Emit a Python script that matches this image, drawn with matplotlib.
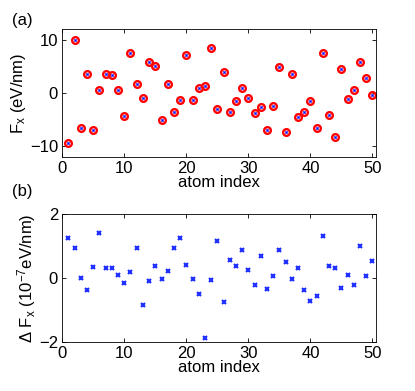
import numpy as np
import matplotlib.pyplot as plt

plt.rcParams['font.family'] = ['Liberation Sans', 'DejaVu Sans']
plt.rcParams['mathtext.fontset'] = 'custom'
plt.rcParams['mathtext.rm'] = 'Liberation Sans'
plt.rcParams['mathtext.it'] = 'Liberation Sans'
plt.rcParams['font.size'] = 12

# atom index 1..50
atom_index = np.arange(1, 51)

# panel (a): force Fx in eV/nm
fx = [-9.43, 9.94, -6.67, 3.58, -7.04, 0.57, 3.65, 3.46, 0.63, -4.40,
      7.48, 1.76, -0.94, 5.85, 5.16, -5.09, 1.76, -3.58, -1.38, 7.17,
      -1.26, 1.01, 1.26, 8.55, -3.02, 3.96, -3.58, -1.51, 1.01, -0.94,
      -3.77, -2.70, -6.92, -2.39, 4.97, -7.30, 3.65, -4.53, -3.52, -1.45,
      -6.54, 7.61, -4.21, -8.24, 4.59, -1.19, 0.57, 5.91, 2.83, -0.31]

# panel (b): force difference in 1e-7 eV/nm
dfx = [1.27, 0.96, 0.02, -0.35, 0.36, 1.42, 0.31, 0.32, 0.10, -0.14,
       0.20, 0.94, -0.82, -0.08, 0.375, -0.02, 0.24, 0.94, 1.26, 0.43,
       -0.02, -0.48, -1.85, -0.04, 1.16, -0.75, 0.58, 0.40, 0.90, 0.27,
       -0.21, 0.70, -0.33, 0.09, 0.89, 0.52, -0.01, 0.33, -0.35, -0.72,
       -0.54, 1.33, 0.40, 0.33, -0.29, 0.10, -0.21, 1.01, 0.06, 0.55]

fig = plt.figure(figsize=(4.15, 3.91), dpi=100)
ax1 = fig.add_axes([0.150, 0.599, 0.755, 0.326])
ax2 = fig.add_axes([0.150, 0.1245, 0.755, 0.327])

# --- (a) ---
ax1.plot(atom_index, fx, 'o', color='red', mfc='none', ms=4.8, mew=1.7)
ax1.plot(atom_index, fx, 'x', color='blue', ms=1.6, mew=0.8)
ax1.set_ylim(-12, 12)
ax1.set_yticks([-10, 0, 10])
ax1.set_ylabel(r'F$_{\mathregular{x}}$ (eV/nm)', labelpad=1)

# --- (b) ---
ax2.plot(atom_index, dfx, 'x', color='#1f2fff', ms=3.5, mew=1.5)
ax2.set_ylim(-2, 2)
ax2.set_yticks([-2, 0, 2])
ax2.set_ylabel('Δ F$_{\\mathregular{x}}$ (10$^{\\mathregular{-7}}$eV/nm)', labelpad=1)

for ax in (ax1, ax2):
    ax.set_xlim(0, 50.5)
    ax.set_xticks([0, 10, 20, 30, 40, 50])
    ax.set_xlabel('atom index', labelpad=-1)
    ax.tick_params(direction='in', top=True, right=True, length=3,
                   width=0.6, labelsize=12, pad=3)
    for s in ax.spines.values():
        s.set_linewidth(0.6)

fig.text(22 / 415, 1 - 20 / 391, '(a)', ha='center', va='center', fontsize=12)
fig.text(22 / 415, 1 - 191 / 391, '(b)', ha='center', va='center', fontsize=12)

fig.savefig('out.png', dpi=100)
